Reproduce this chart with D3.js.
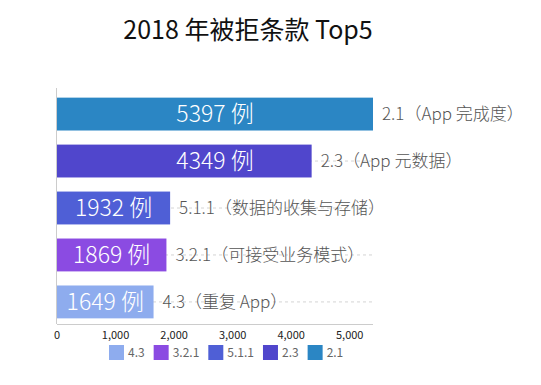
<!DOCTYPE html>
<html>
<head>
<meta charset="utf-8">
<script src="https://cdn.jsdelivr.net/npm/d3@7"></script>
<style>
  body { margin: 0; background: #fff; }
  text { font-family: "Noto Sans CJK SC", "Noto Sans", sans-serif; }
</style>
</head>
<body>
<div class="chart"></div>
<script>
// datos: de arriba hacia abajo
const codes = ["2.1", "2.3", "5.1.1", "3.2.1", "4.3"]
const names = ["2.1（App 完成度）", "2.3（App 元数据）", "5.1.1（数据的收集与存储）", "3.2.1（可接受业务模式）", "4.3（重复 App）"]
const counts = [5397, 4349, 1932, 1869, 1649]
const barColors = ["#2b86c4", "#5046cc", "#4f5fd6", "#8b4be2", "#8eacee"]
const xTicks = [0, 1000, 2000, 3000, 4000, 5000]
const legendOrder = ["4.3", "3.2.1", "5.1.1", "2.3", "2.1"]

const WIDTH = 541
const HEIGHT = 385
const margin = { top: 92, left: 57, right: 168, bottom: 61 }

const data = codes.map((c, i) => ({ code: c, name: names[i], value: counts[i], color: barColors[i] }))
const colorOf = d3.scaleOrdinal().domain(codes).range(barColors)

const svg = d3.select(".chart")
  .append("svg")
  .attr("width", WIDTH)
  .attr("height", HEIGHT)

// Titulo
svg.append("text")
  .attr("x", 248)
  .attr("y", 39)
  .attr("text-anchor", "middle")
  .attr("font-size", 25)
  .attr("fill", "#111")
  .text("2018 年被拒条款 Top5")

const xScale = d3.scaleLinear()
  .domain([0, 5397])
  .range([margin.left, WIDTH - margin.right])

const yScale = d3.scaleBand()
  .domain(codes)
  .range([margin.top, HEIGHT - margin.bottom])
  .paddingInner(0.3)
  .paddingOuter(0.12)

// lineas punteadas
svg.append("g")
  .selectAll("line")
  .data(data)
  .join("line")
  .attr("x1", xScale(0))
  .attr("x2", xScale.range()[1])
  .attr("y1", d => yScale(d.code) + yScale.bandwidth() / 2)
  .attr("y2", d => yScale(d.code) + yScale.bandwidth() / 2)
  .attr("stroke", "#d4d4d4")
  .attr("stroke-dasharray", "3,3")

// barras
svg.append("g")
  .selectAll("rect")
  .data(data)
  .join("rect")
  .attr("x", xScale(0))
  .attr("y", d => yScale(d.code))
  .attr("width", d => xScale(d.value) - xScale(0))
  .attr("height", yScale.bandwidth())
  .attr("fill", d => d.color)

// valores dentro de la barra
svg.append("g")
  .selectAll("text")
  .data(data)
  .join("text")
  .attr("x", (d, i) => xScale(i < 2 ? counts[0] / 2 : d.value / 2))
  .attr("y", d => yScale(d.code) + yScale.bandwidth() / 2)
  .attr("dy", "0.36em")
  .attr("text-anchor", "middle")
  .attr("font-size", 23)
  .attr("font-weight", 300)
  .attr("fill", "#fff")
  .text(d => `${d.value} 例`)

// nombres a la derecha
svg.append("g")
  .selectAll("text")
  .data(data)
  .join("text")
  .attr("x", d => xScale(d.value) + 9)
  .attr("y", d => yScale(d.code) + yScale.bandwidth() / 2)
  .attr("dy", "0.35em")
  .attr("font-size", 17)
  .attr("font-weight", 300)
  .attr("fill", "#555")
  .text(d => d.name)

// Ejes
const baseY = 324
svg.append("line")
  .attr("x1", xScale(0) - 0.5).attr("x2", xScale(0) - 0.5)
  .attr("y1", 88).attr("y2", baseY)
  .attr("stroke", "#ccc")

svg.append("line")
  .attr("x1", xScale(0)).attr("x2", xScale.range()[1])
  .attr("y1", baseY + 0.5).attr("y2", baseY + 0.5)
  .attr("stroke", "#ccc")

svg.append("g")
  .selectAll("text")
  .data(xTicks)
  .join("text")
  .attr("x", d => xScale(d))
  .attr("y", 339)
  .attr("text-anchor", "middle")
  .attr("font-size", 11)
  .attr("fill", "#222")
  .text(d => d3.format(",")(d))

// Leyenda
const legend = svg.append("g").attr("transform", "translate(109, 345)")
let lx = 0
legendOrder.forEach(c => {
  const item = legend.append("g").attr("transform", `translate(${lx}, 0)`)
  item.append("rect")
    .attr("width", 15)
    .attr("height", 15)
    .attr("fill", colorOf(c))
  const t = item.append("text")
    .attr("x", 19)
    .attr("y", 7.5)
    .attr("dy", "0.35em")
    .attr("font-size", 12)
    .attr("fill", "#666")
    .text(c)
  lx += 19 + t.node().getComputedTextLength() + 9
})
</script>
</body>
</html>
